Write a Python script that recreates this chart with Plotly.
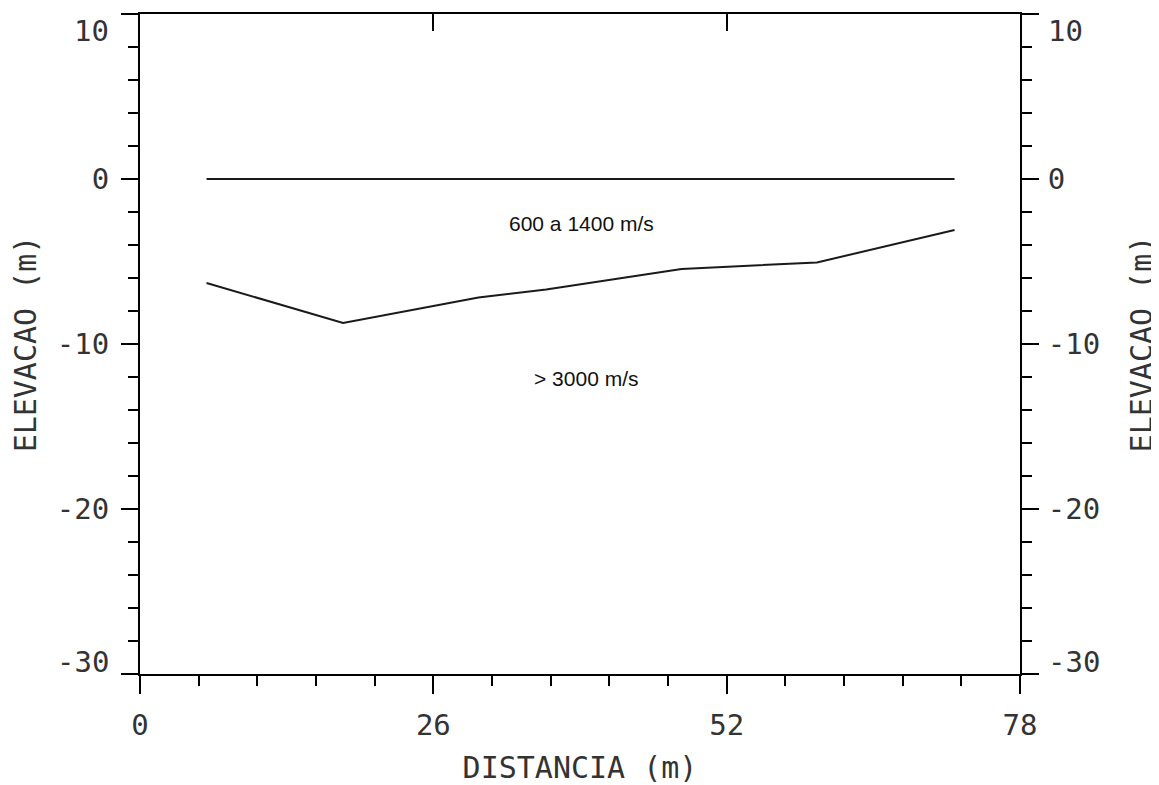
import plotly.graph_objects as go

# Data
surface_distance = [5.9, 72.2]
surface_elevation = [0.0, 0.0]

refractor_distance = [5.9, 18, 30, 36, 48, 60, 72.2]
refractor_elevation = [-6.3, -8.73, -7.18, -6.7, -5.45, -5.06, -3.09]

layer_labels = ["600 a 1400 m/s", "> 3000 m/s"]
layer_label_x = [39.1, 39.5]
layer_label_y = [-2.7, -12.1]

x_tickvals = [0, 26, 52, 78]
y_tickvals = [-30, -20, -10, 0, 10]
# end labels are drawn just inside the frame (as in the reference)
y_end_vals = [10, -30]
y_end_shift = [-17, 12]

MONO = "DejaVu Sans Mono"
INK = "#333333"

fig = go.Figure()
fig.add_trace(go.Scatter(x=surface_distance, y=surface_elevation, mode="lines",
                         line=dict(color="#1a1a1a", width=2), showlegend=False,
                         xaxis="x", yaxis="y"))
fig.add_trace(go.Scatter(x=refractor_distance, y=refractor_elevation, mode="lines",
                         line=dict(color="#1a1a1a", width=2), showlegend=False,
                         xaxis="x2", yaxis="y2"))

for t, ax, ay in zip(layer_labels, layer_label_x, layer_label_y):
    fig.add_annotation(x=ax, y=ay, xref="x", yref="y", text=t, showarrow=False,
                       font=dict(family="Liberation Sans", size=21, color="#111111"))

tickfont = dict(family=MONO, size=29, color=INK)
titlefont = dict(family=MONO, size=30, color=INK)

y_ticktext = ["" if v in y_end_vals else str(v) for v in y_tickvals]

for v, s in zip(y_end_vals, y_end_shift):
    fig.add_annotation(x=-29 / 880, y=v, xref="paper", yref="y", text=str(v),
                       showarrow=False, xanchor="right", yanchor="middle", yshift=s,
                       font=tickfont)
    fig.add_annotation(x=1 + 26 / 880, y=v, xref="paper", yref="y", text=str(v),
                       showarrow=False, xanchor="left", yanchor="middle", yshift=s,
                       font=tickfont)

# the page adds an 8px body margin at left/top, so the figure is 8px smaller
fig.update_layout(
    width=1151, height=777,
    margin=dict(l=132, r=139, t=6, b=111),
    paper_bgcolor="white", plot_bgcolor="white",
    xaxis=dict(range=[0, 78], tickvals=x_tickvals, ticktext=[str(v) for v in x_tickvals],
               ticks="outside", ticklen=18, tickwidth=2, tickcolor="black",
               minor=dict(dtick=5.2, tick0=0, ticks="outside", ticklen=10, tickwidth=2, tickcolor="black"),
               showline=True, linewidth=2, linecolor="black", showgrid=False, zeroline=False,
               tickfont=tickfont, ticklabelstandoff=6, automargin=False,
               title=dict(text="DISTANCIA (m)", font=titlefont, standoff=23)),
    xaxis2=dict(range=[0, 78], overlaying="x", side="top", anchor="y",
                tickvals=[26, 52], ticks="inside", ticklen=17, tickwidth=2, tickcolor="black",
                showticklabels=False, showline=True, linewidth=2, linecolor="black",
                showgrid=False, zeroline=False, automargin=False),
    yaxis=dict(range=[-30, 10], tickvals=y_tickvals, ticktext=y_ticktext,
               ticks="outside", ticklen=17, tickwidth=2, tickcolor="black",
               minor=dict(dtick=2, tick0=0, ticks="outside", ticklen=10, tickwidth=2, tickcolor="black"),
               showline=True, linewidth=2, linecolor="black", showgrid=False, zeroline=False,
               tickfont=tickfont, ticklabelstandoff=6, automargin=False,
               title=dict(text="ELEVACAO (m)", font=titlefont, standoff=34)),
    yaxis2=dict(range=[-30, 10], overlaying="y", side="right", anchor="x",
                tickvals=y_tickvals, ticktext=y_ticktext,
                ticks="outside", ticklen=17, tickwidth=2, tickcolor="black",
                minor=dict(dtick=2, tick0=0, ticks="outside", ticklen=10, tickwidth=2, tickcolor="black"),
                showline=True, linewidth=2, linecolor="black", showgrid=False, zeroline=False,
                tickfont=tickfont, ticklabelstandoff=3, automargin=False,
                title=dict(text="ELEVACAO (m)", font=titlefont, standoff=39)),
)

fig.write_html("out.html")
